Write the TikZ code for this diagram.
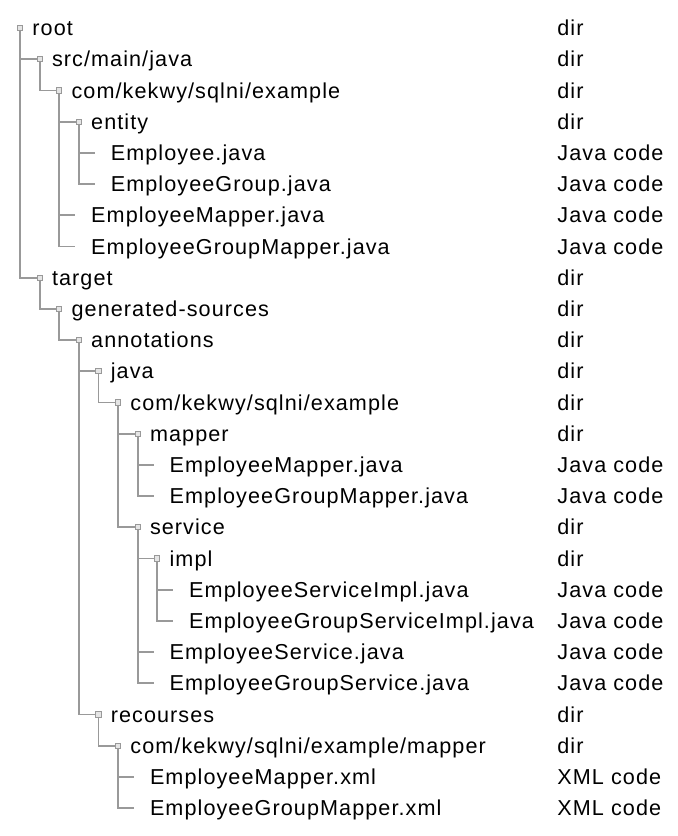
\documentclass[tikz,border=0pt]{standalone}
\usepackage{fontspec}
\setmainfont{Liberation Sans}[LetterSpace=5]
\begin{document}
\begin{tikzpicture}[x=0.5pt, y=-0.5pt, every node/.style={font=\fontsize{10.8}{13}\selectfont},
  lbl/.style={anchor=west,inner sep=0pt,text height=7.7pt,text depth=0pt},
  sq/.style={draw=gray!80,fill=gray!20,line width=0.5pt,minimum size=2.6pt,inner sep=0pt},
  tree/.style={draw=gray!80,line width=0.9pt},
  leaf/.style={tree,shorten >=7.8pt}]
\useasboundingbox (0,0) rectangle (678,836);
% squares of the folders
\node[sq] (rootq) at (20,28) {};
\node[sq] (srcq) at (39.6,59.2) {};
\node[sq] (pkgq) at (59.2,90.4) {};
\node[sq] (entq) at (78.8,121.6) {};
\node[sq] (targq) at (39.6,277.6) {};
\node[sq] (genq) at (59.2,308.8) {};
\node[sq] (annq) at (78.8,340) {};
\node[sq] (javaq) at (98.4,371.2) {};
\node[sq] (gpkgq) at (118,402.4) {};
\node[sq] (mapq) at (137.6,433.6) {};
\node[sq] (servq) at (137.6,527.2) {};
\node[sq] (implq) at (157.2,558.4) {};
\node[sq] (resq) at (98.4,714.4) {};
\node[sq] (rpkgq) at (118,745.6) {};
% names
\node[lbl] (root) at (32,28) {root};
\node[lbl] (src) at (51.6,59.2) {src/main/java};
\node[lbl] (pkg) at (71.2,90.4) {com/kekwy/sqlni/example};
\node[lbl] (ent) at (90.8,121.6) {entity};
\node[lbl] (emp) at (110.4,152.8) {Employee.java};
\node[lbl] (empgrp) at (110.4,184) {EmployeeGroup.java};
\node[lbl] (empmap) at (90.8,215.2) {EmployeeMapper.java};
\node[lbl] (grpmap) at (90.8,246.4) {EmployeeGroupMapper.java};
\node[lbl] (targ) at (51.6,277.6) {target};
\node[lbl] (gen) at (71.2,308.8) {generated-sources};
\node[lbl] (ann) at (90.8,340) {annotations};
\node[lbl] (java) at (110.4,371.2) {java};
\node[lbl] (gpkg) at (130,402.4) {com/kekwy/sqlni/example};
\node[lbl] (map) at (149.6,433.6) {mapper};
\node[lbl] (gmap) at (169.2,464.8) {EmployeeMapper.java};
\node[lbl] (ggrpmap) at (169.2,496) {EmployeeGroupMapper.java};
\node[lbl] (serv) at (149.6,527.2) {service};
\node[lbl] (impl) at (169.2,558.4) {impl};
\node[lbl] (simpl) at (188.8,589.6) {EmployeeServiceImpl.java};
\node[lbl] (sgrpimpl) at (188.8,620.8) {EmployeeGroupServiceImpl.java};
\node[lbl] (sserv) at (169.2,652) {EmployeeService.java};
\node[lbl] (sgrpserv) at (169.2,683.2) {EmployeeGroupService.java};
\node[lbl] (res) at (110.4,714.4) {recourses};
\node[lbl] (rpkg) at (130,745.6) {com/kekwy/sqlni/example/mapper};
\node[lbl] (xmap) at (149.6,776.8) {EmployeeMapper.xml};
\node[lbl] (xgrpmap) at (149.6,808) {EmployeeGroupMapper.xml};
% kinds
\node[lbl] (t0) at (557,28) {dir};
\node[lbl] (t1) at (557,59.2) {dir};
\node[lbl] (t2) at (557,90.4) {dir};
\node[lbl] (t3) at (557,121.6) {dir};
\node[lbl] (t4) at (557,152.8) {Java code};
\node[lbl] (t5) at (557,184) {Java code};
\node[lbl] (t6) at (557,215.2) {Java code};
\node[lbl] (t7) at (557,246.4) {Java code};
\node[lbl] (t8) at (557,277.6) {dir};
\node[lbl] (t9) at (557,308.8) {dir};
\node[lbl] (t10) at (557,340) {dir};
\node[lbl] (t11) at (557,371.2) {dir};
\node[lbl] (t12) at (557,402.4) {dir};
\node[lbl] (t13) at (557,433.6) {dir};
\node[lbl] (t14) at (557,464.8) {Java code};
\node[lbl] (t15) at (557,496) {Java code};
\node[lbl] (t16) at (557,527.2) {dir};
\node[lbl] (t17) at (557,558.4) {dir};
\node[lbl] (t18) at (557,589.6) {Java code};
\node[lbl] (t19) at (557,620.8) {Java code};
\node[lbl] (t20) at (557,652) {Java code};
\node[lbl] (t21) at (557,683.2) {Java code};
\node[lbl] (t22) at (557,714.4) {dir};
\node[lbl] (t23) at (557,745.6) {dir};
\node[lbl] (t24) at (557,776.8) {XML code};
\node[lbl] (t25) at (557,808) {XML code};
% tree lines
\draw[tree] (rootq.south) |- (srcq.west);
\draw[tree] (rootq.south) |- (targq.west);
\draw[tree] (srcq.south) |- (pkgq.west);
\draw[tree] (pkgq.south) |- (entq.west);
\draw[leaf] (entq.south) |- (emp.west);
\draw[leaf] (entq.south) |- (empgrp.west);
\draw[leaf] (pkgq.south) |- (empmap.west);
\draw[leaf] (pkgq.south) |- (grpmap.west);
\draw[tree] (targq.south) |- (genq.west);
\draw[tree] (genq.south) |- (annq.west);
\draw[tree] (annq.south) |- (javaq.west);
\draw[tree] (annq.south) |- (resq.west);
\draw[tree] (javaq.south) |- (gpkgq.west);
\draw[tree] (gpkgq.south) |- (mapq.west);
\draw[tree] (gpkgq.south) |- (servq.west);
\draw[leaf] (mapq.south) |- (gmap.west);
\draw[leaf] (mapq.south) |- (ggrpmap.west);
\draw[tree] (servq.south) |- (implq.west);
\draw[leaf] (implq.south) |- (simpl.west);
\draw[leaf] (implq.south) |- (sgrpimpl.west);
\draw[leaf] (servq.south) |- (sserv.west);
\draw[leaf] (servq.south) |- (sgrpserv.west);
\draw[tree] (resq.south) |- (rpkgq.west);
\draw[leaf] (rpkgq.south) |- (xmap.west);
\draw[leaf] (rpkgq.south) |- (xgrpmap.west);
\end{tikzpicture}
\end{document}
